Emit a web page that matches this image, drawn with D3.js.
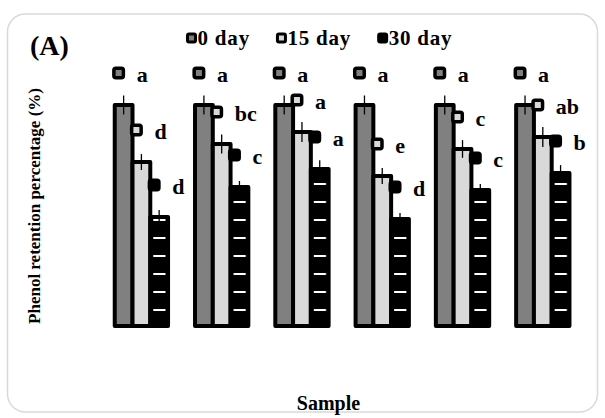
<!DOCTYPE html>
<html><head><meta charset="utf-8">
<script src="https://cdn.jsdelivr.net/npm/d3@7/dist/d3.min.js"></script>
<style>body{margin:0;background:#fff} svg{display:block} text{font-family:"Liberation Serif","Times New Roman",serif;font-weight:bold;fill:#000}</style>
</head><body>
<svg id="c" width="605" height="418"></svg>
<script>
// ---- data ----
const samples = ["S1","S2","S3","S4","S5","S6"];
const seriesNames = ["0 day","15 day","30 day"];
const day0  = [100, 100, 100, 100, 100, 100];
const day15 = [74.2, 82.4, 87.8, 67.9, 80.1, 85.5];
const day30 = [49.3, 62.9, 71.0, 48.4, 61.5, 69.2];
const err0  = [4.3, 4.3, 4.3, 4.3, 4.3, 4.3];
const err15 = [3.6, 4.3, 4.5, 3.6, 4.0, 4.5];
const err30 = [3.2, 2.7, 4.0, 2.7, 2.7, 3.6];
const sig0  = ["a","a","a","a","a","a"];
const sig15 = ["d","bc","a","e","c","ab"];
const sig30 = ["d","c","a","d","c","b"];
const panelLabel = "(A)";
const xTitle = "Sample";
const yTitle = "Phenol retention percentage (%)";

const values = [day0, day15, day30];
const errs = [err0, err15, err30];
const sigs = [sig0, sig15, sig30];
const fills = ["#808080", "#d9d9d9", "url(#dash)"];
const keyFills = ["#808080", "#d9d9d9", "#000"];

const svg = d3.select("#c");

// frame
svg.append("rect").attr("x", 7.5).attr("y", 14).attr("width", 590).attr("height", 398)
  .attr("rx", 18).attr("fill", "#fff").attr("stroke", "#d9d9d9").attr("stroke-width", 1.5);

const x0 = d3.scaleBand().domain(samples).range([102.7, 581.5]).paddingInner(0.336).paddingOuter(0.15);
const x1 = d3.scaleBand().domain(seriesNames).range([0, x0.bandwidth()]);
const y = d3.scaleLinear().domain([0, 100]).range([326, 105]);

// hatch pattern for 30 day bars
const step = x0.step();
const pat = svg.append("defs").append("pattern").attr("id", "dash")
  .attr("patternUnits", "userSpaceOnUse")
  .attr("x", x0(samples[0]) + x1("30 day")).attr("y", y(0) - 17)
  .attr("width", step).attr("height", 18);
pat.append("rect").attr("width", step).attr("height", 18).attr("fill", "#000");
pat.append("rect").attr("x", 3).attr("y", 0).attr("width", x1.bandwidth() - 5.5).attr("height", 2).attr("fill", "#fff");

const rows = [];
seriesNames.forEach((s, si) => samples.forEach((c, ci) => rows.push({
  s, si, c, v: values[si][ci], e: errs[si][ci], t: sigs[si][ci]
})));

// bars
svg.append("g").selectAll("rect").data(rows).join("rect")
  .attr("x", d => x0(d.c) + x1(d.s))
  .attr("y", d => y(d.v))
  .attr("width", x1.bandwidth())
  .attr("height", d => y(0) - y(d.v))
  .attr("fill", d => fills[d.si])
  .attr("stroke", "#000").attr("stroke-width", 4).attr("stroke-linejoin", "round");

// error bars
svg.append("g").selectAll("line").data(rows).join("line")
  .attr("x1", d => x0(d.c) + x1(d.s) + x1.bandwidth() / 2)
  .attr("x2", d => x0(d.c) + x1(d.s) + x1.bandwidth() / 2)
  .attr("y1", d => y(d.v + d.e))
  .attr("y2", d => y(d.v - d.e))
  .attr("stroke", "#000").attr("stroke-width", 1.3);

// significance labels with legend keys
const lab = svg.append("g").selectAll("g").data(rows).join("g")
  .attr("transform", d => `translate(${x0(d.c) + x1(d.s) + x1.bandwidth() / 2 - 5},${y(d.v) - 32})`);
lab.append("rect").attr("x", -4.75).attr("y", -4.75).attr("width", 9.5).attr("height", 9.5)
  .attr("rx", 2).attr("fill", d => keyFills[d.si]).attr("stroke", "#000").attr("stroke-width", 3.5);
lab.append("text").attr("x", 18).attr("y", 9).style("font-size", "22px").text(d => d.t);

// legend
const leg = svg.append("g");
let lx = 186;
seriesNames.forEach((s, i) => {
  const g = leg.append("g").attr("transform", `translate(${lx},38)`);
  g.append("rect").attr("x", 1.5).attr("y", -4).attr("width", 8).attr("height", 8).attr("rx", 1.5)
    .attr("fill", keyFills[i]).attr("stroke", "#000").attr("stroke-width", 3);
  const t = g.append("text").attr("x", 11.5).attr("y", 6.5).style("font-size", "21px")
    .style("letter-spacing", "0.8px").text(s);
  lx += 11.5 + t.node().getComputedTextLength() + 26;
});

// titles
svg.append("text").attr("x", 30).attr("y", 55).style("font-size", "28px").text(panelLabel);
svg.append("text").attr("x", 328.5).attr("y", 410).attr("text-anchor", "middle").style("font-size", "20px").text(xTitle);
svg.append("text").attr("transform", "translate(40,206) rotate(-90)").attr("text-anchor", "middle")
  .style("font-size", "17px").text(yTitle);
</script>
</body></html>
